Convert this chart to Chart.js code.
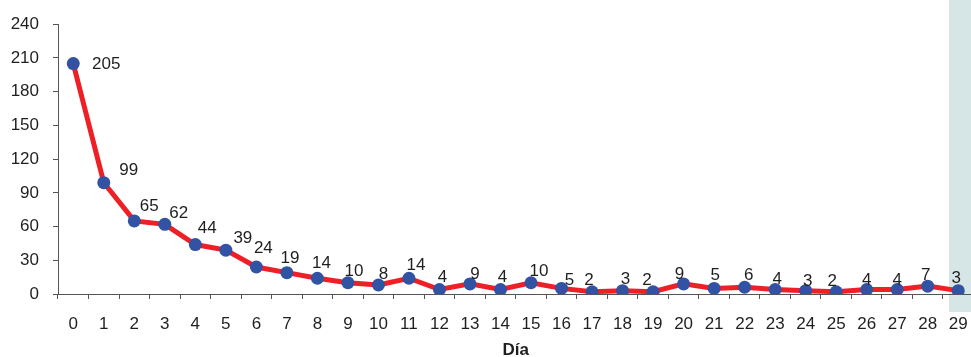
<!DOCTYPE html>
<html>
<head>
<meta charset="utf-8">
<script src="https://cdn.jsdelivr.net/npm/chart.js@4"></script>
<style>
    html, body { margin: 0; padding: 0; background: #fff; overflow: hidden; }
    canvas { display: block; }
</style>
</head>
<body>
<canvas id="dayChart" width="980" height="357"></canvas>
<script>
    // Data
    const days = ['0','1','2','3','4','5','6','7','8','9','10','11','12','13','14','15','16','17','18','19','20','21','22','23','24','25','26','27','28','29'];
    const counts = [205, 99, 65, 62, 44, 39, 24, 19, 14, 10, 8, 14, 4, 9, 4, 10, 5, 2, 3, 2, 9, 5, 6, 4, 3, 2, 4, 4, 7, 3];
    const yTicks = [0, 30, 60, 90, 120, 150, 180, 210, 240];

    // label nudges (px) relative to each point, to mimic the original placement
    const labelNudge = [
        [33, 1], [25, -12], [15, -15], [14, -11], [12, -16], [17, -12], [7, -19], [3, -14],
        [4, -15], [6, -11], [5, -11], [7, -13], [3, -12], [5, -10], [2, -12], [8, -11],
        [8, -8], [-3, -11], [3, -11], [-6, -11], [-4, -10], [1, -13], [4, -12], [2, -10],
        [2, -9], [-4, -10], [0, -9], [0, -9], [-2, -11], [-2, -12]
    ];

    const fontFamily = "'Liberation Sans', Arial, sans-serif";
    const textColor = '#1f1f1f';
    const axisColor = '#555555';

    // light band on the right edge
    const bandPlugin = {
        id: 'band',
        beforeDraw(chart) {
            const ctx = chart.ctx;
            ctx.save();
            ctx.fillStyle = '#d6e5e6';
            ctx.fillRect(949, 0, chart.width - 949, 312);
            ctx.restore();
        }
    };

    const valueLabels = {
        id: 'valueLabels',
        afterDatasetsDraw(chart) {
            const ctx = chart.ctx;
            const meta = chart.getDatasetMeta(0);
            ctx.save();
            ctx.font = '17px ' + fontFamily;
            ctx.fillStyle = textColor;
            ctx.textAlign = 'center';
            ctx.textBaseline = 'middle';
            meta.data.forEach((pt, i) => {
                const n = labelNudge[i] || [3, -11];
                ctx.fillText(String(counts[i]), pt.x + n[0], pt.y + n[1]);
            });
            ctx.restore();
        }
    };

    const ctx = document.getElementById('dayChart').getContext('2d');
    new Chart(ctx, {
        type: 'line',
        data: {
            labels: days,
            datasets: [{
                data: counts,
                borderColor: '#ee1f25',
                borderWidth: 5,
                backgroundColor: '#3252a3',
                pointBackgroundColor: '#3252a3',
                pointBorderColor: '#3252a3',
                pointRadius: 6.5,
                pointBorderWidth: 0,
                tension: 0,
                fill: false
            }]
        },
        plugins: [bandPlugin, valueLabels],
        options: {
            responsive: false,
            animation: false,
            devicePixelRatio: 1,
            layout: { padding: { top: 19, right: 2, bottom: 0, left: 0 } },
            plugins: {
                legend: { display: false },
                tooltip: { enabled: false }
            },
            scales: {
                x: {
                    offset: true,
                    grid: {
                        offset: true,
                        drawOnChartArea: false,
                        drawTicks: true,
                        tickLength: 5,
                        color: axisColor
                    },
                    border: { display: true, color: axisColor, width: 1 },
                    ticks: {
                        color: textColor,
                        font: { family: fontFamily, size: 17 },
                        padding: 15,
                        maxRotation: 0,
                        autoSkip: false
                    },
                    title: {
                        display: true,
                        text: 'Día',
                        color: textColor,
                        font: { family: fontFamily, size: 17, weight: 'bold' },
                        padding: { top: 4, bottom: -4 }
                    },
                    afterFit(scale) {
                        scale.height = 63;
                        scale.paddingLeft = 0;
                        scale.paddingRight = 0;
                    }
                },
                y: {
                    min: 0,
                    max: 240,
                    afterBuildTicks(scale) {
                        scale.ticks = yTicks.map(v => ({ value: v }));
                    },
                    grid: {
                        drawOnChartArea: false,
                        drawTicks: true,
                        tickLength: 5,
                        color: axisColor
                    },
                    border: { display: true, color: axisColor, width: 1 },
                    ticks: {
                        color: textColor,
                        font: { family: fontFamily, size: 17 },
                        padding: 14
                    },
                    afterFit(scale) { scale.width = 58; }
                }
            }
        }
    });
</script>
</body>
</html>
